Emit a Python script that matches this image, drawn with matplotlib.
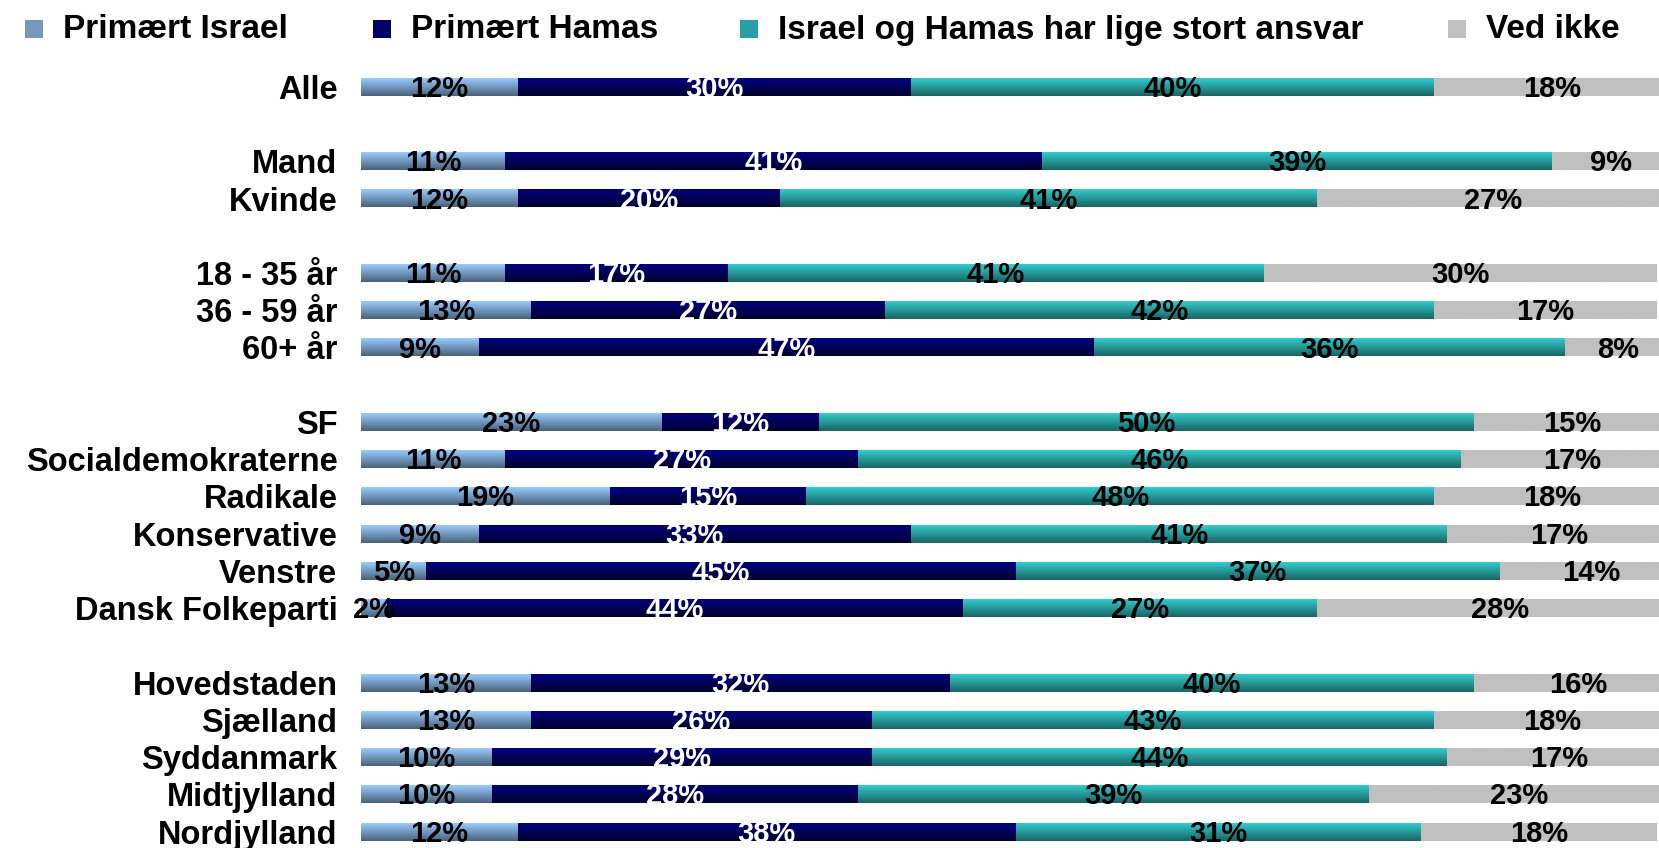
import numpy as np
import matplotlib
matplotlib.use("Agg")
import matplotlib.pyplot as plt
from matplotlib.colors import LinearSegmentedColormap
from matplotlib.patches import Rectangle

plt.rcParams["font.family"] = ["Liberation Sans", "DejaVu Sans"]

# Data
categories = ["Alle",
              "Mand", "Kvinde",
              "18 - 35 år", "36 - 59 år", "60+ år",
              "SF", "Socialdemokraterne", "Radikale", "Konservative", "Venstre", "Dansk Folkeparti",
              "Hovedstaden", "Sjælland", "Syddanmark", "Midtjylland", "Nordjylland"]
group_sizes = [1, 2, 3, 6, 5]

series_names = ["Primært Israel", "Primært Hamas",
                "Israel og Hamas har lige stort ansvar", "Ved ikke"]
primaert_israel = [12, 11, 12, 11, 13, 9, 23, 11, 19, 9, 5, 2, 13, 13, 10, 10, 12]
primaert_hamas = [30, 41, 20, 17, 27, 47, 12, 27, 15, 33, 45, 44, 32, 26, 29, 28, 38]
lige_ansvar = [40, 39, 41, 41, 42, 36, 50, 46, 48, 41, 37, 27, 40, 43, 44, 39, 31]
ved_ikke = [18, 9, 27, 30, 17, 8, 15, 17, 18, 17, 14, 28, 16, 18, 17, 23, 18]
series = [primaert_israel, primaert_hamas, lige_ansvar, ved_ikke]

# Vertical gradient (top, bottom) per series
gradients = [("#99CCFF", "#4A6179"),
             ("#000080", "#00002E"),
             ("#33CCCC", "#1A6464"),
             ("#C0C0C0", "#C0C0C0")]
label_colors = ["black", "white", "black", "black"]

# row positions: one empty row between the groups
rows = []
pos = 0
for g in group_sizes:
    rows.extend(range(pos, pos + g))
    pos += g + 1
rows = np.array(rows)

W, H = 1659, 848
fig = plt.figure(figsize=(W / 100, H / 100), dpi=100)
ax = fig.add_axes([361 / W, 0, 1309 / W, 1])

bar_h = 0.48
grad = np.linspace(0, 1, 64).reshape(-1, 1)
left = np.zeros(len(categories))
for vals, (top_c, bot_c), lc in zip(series, gradients, label_colors):
    vals = np.array(vals, dtype=float)
    bars = ax.barh(rows, vals, left=left, height=bar_h, color=top_c, linewidth=0, zorder=1)
    cmap = LinearSegmentedColormap.from_list("g", [top_c, bot_c])
    for b, v in zip(bars, vals):
        x0, y0 = b.get_x(), b.get_y()
        w, h = b.get_width(), b.get_height()
        ax.imshow(grad, cmap=cmap, aspect="auto", interpolation="bilinear",
                  extent=(x0, x0 + w, y0 + h, y0), zorder=2)
        ax.text(x0 + w / 2, y0 + h + 0.03, f"{int(v)}%", ha="center", va="baseline",
                color=lc, fontsize=21, fontweight="bold", zorder=3)
    left += vals

ax.set_xlim(0, 100)
ax.set_ylim(20.441, -2.331)
ax.set_yticks(rows)
ax.set_yticklabels(categories, fontsize=23.5, fontweight="bold")
ax.tick_params(axis="y", length=0, pad=17)
ax.set_xticks([])
for s in ax.spines.values():
    s.set_visible(False)

# legend drawn as markers + texts at the reference positions
legend_colors = ["#7898B8", "#000066", "#26A0A0", "#C0C0C0"]
marker_x = [25, 373, 740, 1448]
for name, col, mx in zip(series_names, legend_colors, marker_x):
    fig.patches.append(Rectangle((mx / W, 1 - 38 / H), 18 / W, 18 / H,
                                 transform=fig.transFigure, facecolor=col, linewidth=0))
    fig.text((mx + 38) / W, 1 - 30 / H, name, ha="left", va="center",
             fontsize=24, fontweight="bold")

fig.savefig("out.png", dpi=100)
